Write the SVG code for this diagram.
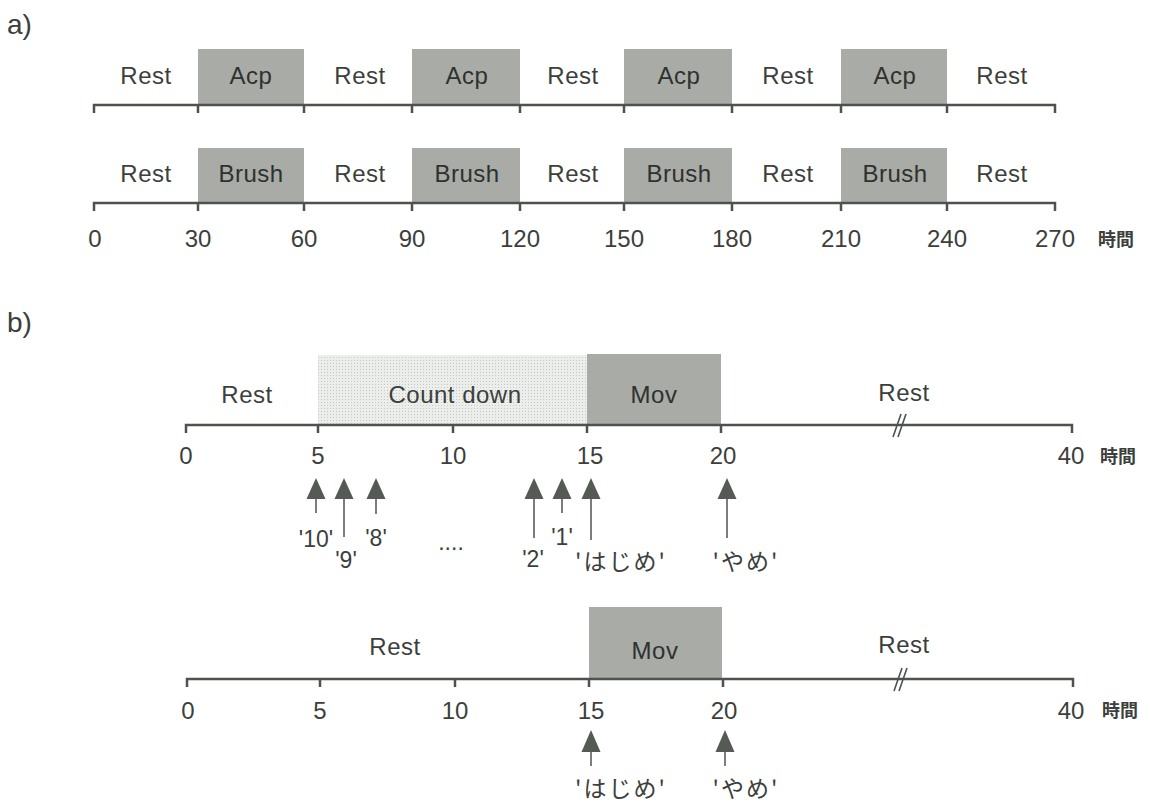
<svg xmlns="http://www.w3.org/2000/svg" width="1150" height="803" viewBox="0 0 1150 803">
<style>
.lbl{font-family:"Liberation Sans",Arial,sans-serif;font-size:24px;fill:#3c3f3c;text-anchor:middle;letter-spacing:0.5px}
.in{fill:#2e322e}
.num{font-family:"Liberation Sans",Arial,sans-serif;font-size:24px;fill:#3c3f3c;text-anchor:middle}
.q{font-family:"Liberation Sans","Noto Sans CJK JP",sans-serif;font-size:23px;fill:#3c3f3c;text-anchor:middle}
.jp{font-family:"Noto Sans CJK JP",sans-serif;font-size:23px;fill:#3c3f3c;text-anchor:middle;letter-spacing:2px}
.unit{font-family:"Noto Sans CJK JP",sans-serif;font-size:18px;font-weight:700;fill:#3c3f3c}
.sec{font-family:"Liberation Sans",Arial,sans-serif;font-size:28px;fill:#3c3f3c}
.ax{fill:none;stroke:#4d524d;stroke-width:2.5}
.box{fill:#a9aba7}
.cd{fill:url(#dots)}
.shaft{stroke:#5a5e5a;stroke-width:1.6}
.head{fill:#555a55}
</style>
<defs>
<pattern id="dots" width="3" height="3" patternUnits="userSpaceOnUse">
<rect width="3" height="3" fill="#eceeec"/>
<rect width="1" height="1" fill="#c4c7c4"/>
</pattern>
</defs>
<rect width="1150" height="803" fill="#ffffff"/>

<text class="sec" x="7" y="34">a)</text>
<text class="sec" x="7" y="332">b)</text>

<!-- a) row 1 -->
<g id="a-row1">
<rect class="box" x="198" y="49" width="106" height="56"/>
<rect class="box" x="412" y="49" width="108" height="56"/>
<rect class="box" x="624" y="49" width="108" height="56"/>
<rect class="box" x="841" y="49" width="106" height="56"/>
<path class="ax" d="M94,113V105H1055V113M198,105V113M304,105V113M412,105V113M520,105V113M624,105V113M732,105V113M841,105V113M947,105V113"/>
<text class="lbl" x="146" y="84">Rest</text>
<text class="lbl in" x="251" y="84">Acp</text>
<text class="lbl" x="360" y="84">Rest</text>
<text class="lbl in" x="467" y="84">Acp</text>
<text class="lbl" x="573" y="84">Rest</text>
<text class="lbl in" x="679" y="84">Acp</text>
<text class="lbl" x="788" y="84">Rest</text>
<text class="lbl in" x="895" y="84">Acp</text>
<text class="lbl" x="1002" y="84">Rest</text>
</g>

<!-- a) row 2 -->
<g id="a-row2">
<rect class="box" x="198" y="148" width="106" height="55"/>
<rect class="box" x="412" y="148" width="108" height="55"/>
<rect class="box" x="624" y="148" width="108" height="55"/>
<rect class="box" x="841" y="148" width="106" height="55"/>
<path class="ax" d="M94,211V203H1055V211M198,203V211M304,203V211M412,203V211M520,203V211M624,203V211M732,203V211M841,203V211M947,203V211"/>
<text class="lbl" x="146" y="182">Rest</text>
<text class="lbl in" x="251" y="182">Brush</text>
<text class="lbl" x="360" y="182">Rest</text>
<text class="lbl in" x="467" y="182">Brush</text>
<text class="lbl" x="573" y="182">Rest</text>
<text class="lbl in" x="679" y="182">Brush</text>
<text class="lbl" x="788" y="182">Rest</text>
<text class="lbl in" x="895" y="182">Brush</text>
<text class="lbl" x="1002" y="182">Rest</text>
</g>
<g id="a-scale">
<text class="num" x="95" y="247">0</text>
<text class="num" x="198" y="247">30</text>
<text class="num" x="304" y="247">60</text>
<text class="num" x="412" y="247">90</text>
<text class="num" x="520" y="247">120</text>
<text class="num" x="624" y="247">150</text>
<text class="num" x="732" y="247">180</text>
<text class="num" x="841" y="247">210</text>
<text class="num" x="947" y="247">240</text>
<text class="num" x="1055" y="247">270</text>
<text class="unit" x="1098" y="246">時間</text>
</g>

<!-- b) upper -->
<g id="b-upper">
<rect class="cd" x="318" y="355" width="269" height="70"/>
<rect class="box" x="587" y="354" width="134" height="71"/>
<path class="ax" d="M186,433V425H1072V433M318,425V433M453,425V433M587,425V433M721,425V433"/>
<path d="M893,437L901,414M898,437L906,414" stroke="#4d524d" stroke-width="1.6" fill="none"/>
<text class="lbl" x="247" y="403">Rest</text>
<text class="lbl" x="455" y="403">Count down</text>
<text class="lbl in" x="654" y="403">Mov</text>
<text class="lbl" x="904" y="401">Rest</text>
<text class="num" x="186" y="464">0</text>
<text class="num" x="318" y="464">5</text>
<text class="num" x="453" y="464">10</text>
<text class="num" x="590" y="464">15</text>
<text class="num" x="723" y="464">20</text>
<text class="num" x="1071" y="464">40</text>
<text class="unit" x="1100" y="463">時間</text>
</g>

<!-- b) lower -->
<g id="b-lower">
<rect class="box" x="589" y="607" width="133" height="72"/>
<path class="ax" d="M187,687V679H1073V687M320,679V687M455,679V687M589,679V687M723,679V687"/>
<path d="M894,691L902,668M899,691L907,668" stroke="#4d524d" stroke-width="1.6" fill="none"/>
<text class="lbl" x="395" y="655">Rest</text>
<text class="lbl in" x="655" y="659">Mov</text>
<text class="lbl" x="904" y="653">Rest</text>
<text class="num" x="188" y="719">0</text>
<text class="num" x="320" y="719">5</text>
<text class="num" x="455" y="719">10</text>
<text class="num" x="591" y="719">15</text>
<text class="num" x="724" y="719">20</text>
<text class="num" x="1071" y="719">40</text>
<text class="unit" x="1102" y="717">時間</text>
</g>

<!-- connectors (cue arrows) -->
<g id="connectors">
<line class="shaft" x1="316" y1="495" x2="316" y2="513"/>
<line class="shaft" x1="344" y1="495" x2="344" y2="537"/>
<line class="shaft" x1="376" y1="495" x2="376" y2="514"/>
<line class="shaft" x1="534" y1="495" x2="534" y2="538"/>
<line class="shaft" x1="562" y1="495" x2="562" y2="513"/>
<line class="shaft" x1="591" y1="495" x2="591" y2="540"/>
<line class="shaft" x1="727" y1="495" x2="727" y2="538"/>
<path class="head" d="M306.5,499L316,478L325.5,499ZM334.5,499L344,478L353.5,499ZM366.5,499L376,478L385.5,499ZM524.5,499L534,478L543.5,499ZM552.5,499L562,478L571.5,499ZM581.5,499L591,478L600.5,499ZM717.5,499L727,478L736.5,499Z"/>
<line class="shaft" x1="591" y1="748" x2="591" y2="766"/>
<line class="shaft" x1="725" y1="748" x2="725" y2="766"/>
<path class="head" d="M581.5,752L591,730L600.5,752ZM715.5,752L725,730L734.5,752Z"/>
</g>

<g id="cue-labels">
<text class="q" x="316" y="547">'10'</text>
<text class="q" x="346" y="568">'9'</text>
<text class="q" x="376" y="546">'8'</text>
<text class="q" x="451" y="550">....</text>
<text class="q" x="533" y="567">'2'</text>
<text class="q" x="562" y="545">'1'</text>
<text class="jp" x="621" y="570">'はじめ'</text>
<text class="jp" x="746" y="570">'やめ'</text>
<text class="jp" x="621" y="797">'はじめ'</text>
<text class="jp" x="746" y="797">'やめ'</text>
</g>
</svg>
